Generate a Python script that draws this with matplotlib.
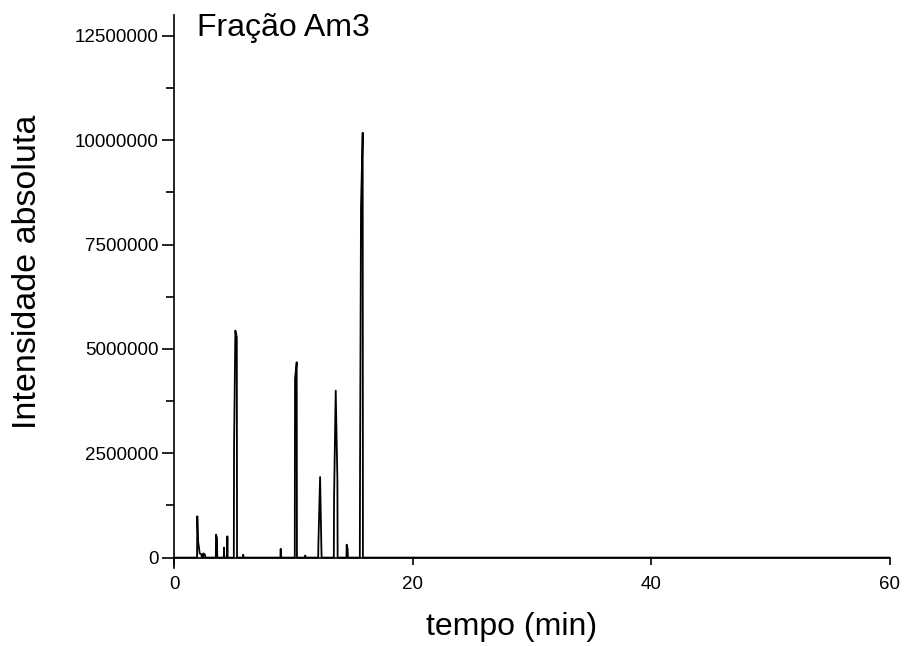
import matplotlib.pyplot as plt
import numpy as np

plt.rcParams['font.family'] = ['Liberation Sans', 'DejaVu Sans']

# peaks (time in min, intensity in counts)
peak_t = [1.95, 2.02, 2.15, 2.30, 2.45, 2.60, 3.52, 3.60, 4.19, 4.47,
          5.03, 5.14, 5.26, 5.80, 8.94, 10.14, 10.28, 11.00, 12.10, 12.24,
          12.35, 13.41, 13.55, 13.69, 14.47, 14.55, 15.59, 15.67, 15.81]
peak_h = [0.99, 0.39, 0.10, 0.08, 0.10, 0.07, 0.55, 0.47, 0.24, 0.51,
          2.65, 5.44, 5.28, 0.07, 0.21, 4.28, 4.68, 0.05, 0.35, 1.93,
          0.20, 1.40, 4.00, 1.88, 0.31, 0.20, 2.20, 8.41, 10.18]
peak_h = [h * 1e6 for h in peak_h]

t_start, t_end = 0, 60

# build the trace: baseline at zero, peaks close together joined
tt = [t_start]
yy = [0]
for i, (t, h) in enumerate(zip(peak_t, peak_h)):
    if i == 0 or t - peak_t[i - 1] > 0.15:
        tt.append(t - 0.02)
        yy.append(0)
    tt.append(t)
    yy.append(h)
    if i == len(peak_t) - 1 or peak_t[i + 1] - t > 0.15:
        tt.append(t + 0.02)
        yy.append(0)
tt.append(t_end)
yy.append(0)

fig = plt.figure(figsize=(9.05, 6.46), dpi=100)
ax = fig.add_axes([0.1923, 0.1207, 0.7911, 0.856])

ax.plot(tt, yy, color='black', lw=1.3)

ax.set_xlim(0, 60)
ax.set_ylim(-250000, 13000000)
ax.set_xticks([0, 20, 40, 60])
ax.set_yticks(np.arange(0, 12500001, 2500000))
ax.set_yticks(np.arange(1250000, 12500000, 2500000), minor=True)
ax.set_yticklabels(['0', '2500000', '5000000', '7500000', '10000000', '12500000'])

ax.spines['top'].set_visible(False)
ax.spines['right'].set_visible(False)
ax.spines['bottom'].set_position(('data', 0))
ax.spines['bottom'].set_linewidth(1.2)
ax.spines['left'].set_linewidth(1.2)

ax.tick_params(axis='y', which='major', length=9, width=1.2, labelsize=13.5, pad=2)
ax.tick_params(axis='y', which='minor', length=6, width=1.2)
ax.tick_params(axis='x', which='major', length=5, width=1.2, labelsize=13.5, pad=8)

ax.set_xlabel('tempo (min)', fontsize=23)
ax.set_ylabel('Intensidade absoluta', fontsize=24.5)
ax.xaxis.set_label_coords(0.471, -0.08)
ax.yaxis.set_label_coords(-0.183, 0.535)

ax.text(0.032, 0.976, 'Fração Am3', transform=ax.transAxes,
        fontsize=23, va='center', ha='left')

fig.savefig('out.png', dpi=100)
